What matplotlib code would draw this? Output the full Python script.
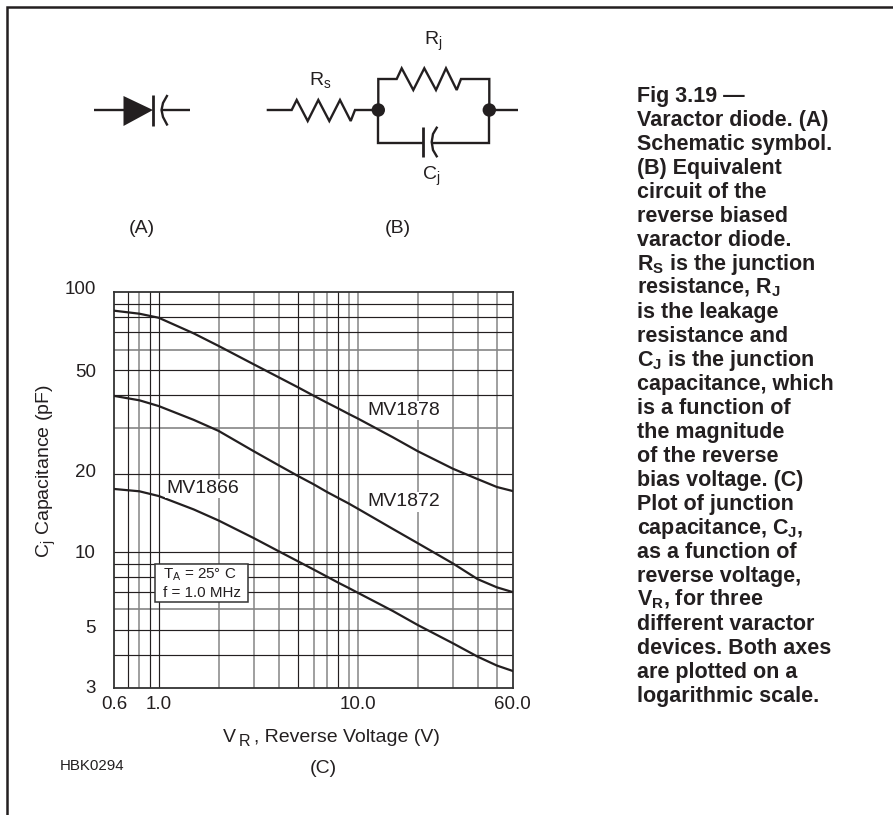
import matplotlib
matplotlib.use("Agg")
import matplotlib.pyplot as plt
from matplotlib.patches import Polygon, Circle, Rectangle
from matplotlib.ticker import NullLocator
from matplotlib.transforms import ScaledTranslation

plt.rcParams['font.family'] = ['Liberation Sans', 'DejaVu Sans']
plt.rcParams['mathtext.fontset'] = 'custom'
plt.rcParams['mathtext.rm'] = 'Liberation Sans'
plt.rcParams['mathtext.bf'] = 'Liberation Sans:bold'
plt.rcParams['mathtext.default'] = 'regular'

# values
voltage = [0.6, 0.8, 1, 1.5, 2, 3, 4, 5, 6, 7, 8, 9, 10, 15, 20, 30, 40, 50, 60]
mv1878 = [84.7, 82.5, 79.6, 69.3, 62.0, 52.7, 47.0, 43.0, 39.9, 37.5, 35.6, 33.95, 32.6, 27.6, 24.4, 20.9, 19.05, 17.76, 17.14]
mv1872 = [39.8, 38.3, 36.4, 32.2, 29.2, 24.4, 21.55, 19.6, 18.2, 17.0, 16.1, 15.35, 14.66, 12.25, 10.8, 9.03, 7.85, 7.3, 7.0]
mv1866 = [17.45, 17.1, 16.4, 14.56, 13.2, 11.3, 10.06, 9.2, 8.55, 8.03, 7.6, 7.26, 6.96, 5.92, 5.23, 4.45, 3.95, 3.65, 3.48]

x_ticks = [0.6, 1, 10, 60]
x_tick_labels = ["0.6", "1.0", "10.0", "60.0"]
y_ticks = [3, 5, 10, 20, 50, 100]
y_tick_labels = ["3", "5", "10", "20", "50", "100"]

# grid lines, dark ones and the ones that came out grey in the scan
x_dark = [0.7, 0.9, 1, 5, 8]
x_grey = [0.8, 2, 3, 4, 6, 7, 9, 10, 20, 30, 40, 50]
y_dark = [4, 5, 7, 8, 9, 10, 20, 40, 50, 70, 80, 90]
y_grey = [6, 30, 60]

caption = [
    r"Fig 3.19 —",
    r"Varactor diode. (A)",
    r"Schematic symbol.",
    r"(B) Equivalent",
    r"circuit of the",
    r"reverse biased",
    r"varactor diode.",
    r"$\mathbf{R_S}$ is the junction",
    r"resistance, $\mathbf{R_J}$",
    r"is the leakage",
    r"resistance and",
    r"$\mathbf{C_J}$ is the junction",
    r"capacitance, which",
    r"is a function of",
    r"the magnitude",
    r"of the reverse",
    r"bias voltage. (C)",
    r"Plot of junction",
    r"capacitance, $\mathbf{C_J}$,",
    r"as a function of",
    r"reverse voltage,",
    r"$\mathbf{V_R}$, for three",
    r"different varactor",
    r"devices. Both axes",
    r"are plotted on a",
    r"logarithmic scale.",
]

W, H = 893, 815
INK = "#231f20"
GREY = "#858585"

fig = plt.figure(figsize=(W / 100, H / 100), dpi=100, facecolor="white")

# the plot (C)
ax = fig.add_axes([114.5 / W, (H - 687.7) / H, 398.2 / W, 395.7 / H])
ax.set_xscale("log")
ax.set_yscale("log")
ax.set_xlim(0.6, 60)
ax.set_ylim(3, 100)

for v in x_grey:
    ax.axvline(v, color=GREY, lw=1.1, zorder=1)
for v in y_grey:
    ax.axhline(v, color=GREY, lw=1.2, zorder=1)
for v in x_dark:
    ax.axvline(v, color=INK, lw=0.85, zorder=1.1)
for v in y_dark:
    ax.axhline(v, color=INK, lw=0.85, zorder=1.1)

for series in (mv1878, mv1872, mv1866):
    ax.plot(voltage, series, color=INK, lw=1.6, zorder=3)

ax.set_xticks(x_ticks)
ax.set_xticklabels(x_tick_labels)
ax.set_yticks(y_ticks)
ax.set_yticklabels(y_tick_labels)
ax.xaxis.set_minor_locator(NullLocator())
ax.yaxis.set_minor_locator(NullLocator())
ax.tick_params(axis="x", length=0, pad=6, labelsize=13.5, labelcolor=INK)
ax.tick_params(axis="y", length=0, pad=13.5, labelsize=13.5, labelcolor=INK)
for s in ax.spines.values():
    s.set_linewidth(1.3)
    s.set_color("#333333")

# some y labels sit a little above their lines in the original
for lab, up in zip(ax.get_yticklabels(), (1, 4, 0, 3, 0, 4)):
    lab.set_transform(lab.get_transform() + ScaledTranslation(0, up / 100, fig.dpi_scale_trans))

# overlay in pixel coordinates for the schematics, frame and text
ov = fig.add_axes([0, 0, 1, 1], facecolor="none")
ov.set_xlim(0, W)
ov.set_ylim(H, 0)
ov.axis("off")


def wire(xs, ys, lw=1.7):
    ov.plot(xs, ys, color=INK, lw=lw, solid_capstyle="butt", solid_joinstyle="miter")


def label(x, y, s, size=13.5, **kw):
    ov.text(x, y, s, fontsize=size, color=INK, **kw)


# page frame
wire([7.3, 7.3, 893], [815, 7, 7], lw=1.8)

# (A) symbol
wire([94, 124], [110, 110])
ov.add_patch(Polygon([(123.5, 96), (123.5, 126), (153, 110)], closed=True, color=INK, lw=0))
wire([153, 153], [95, 126], lw=2)
wire([167.5, 163, 161.5, 163, 167.5], [95, 103, 110, 117, 125.5])
wire([162, 189.5], [110, 110])

# (B) equivalent circuit
wire([266.7, 291.7, 296.7, 307.7, 318.3, 329.3, 340, 350.7, 355, 378.3],
     [110, 110, 100, 121, 100, 121, 100, 121, 110, 110])
wire([378.3, 378.3, 396.7, 401.7, 413.3, 424.3, 436, 446, 456.7, 461, 489.3, 489.3],
     [110, 79, 79, 68.3, 90, 68.3, 90, 68.3, 90, 79, 79, 110])
wire([378.3, 378.3, 423.3], [110, 142.7, 142.7])
wire([423.3, 423.3], [126.7, 156.7], lw=2)
wire([437.3, 433, 431.7, 433, 437.3], [126.7, 134, 142, 150, 157.3])
wire([431.7, 489.3, 489.3], [142.7, 142.7, 110])
wire([489.3, 518.3], [110, 110])
for cx in (378.3, 489.3):
    ov.add_patch(Circle((cx, 110), 6.7, color=INK, lw=0))

label(320, 85, r"R$_s$", size=14, ha="center", va="baseline")
label(433.5, 45, r"R$_j$", size=14, ha="center", va="baseline")
label(431.5, 180, r"C$_j$", size=14, ha="center", va="baseline")
label(142, 233, "(A)", size=14, ha="center", va="baseline")
label(398, 233, "(B)", size=14, ha="center", va="baseline")

# device names sit on a white patch over the grid
pad = dict(facecolor="white", edgecolor="none", pad=1)
label(202.7, 493, "MV1866", size=14, ha="center", va="baseline", bbox=pad)
label(403.7, 415, "MV1878", size=14, ha="center", va="baseline", bbox=pad)
label(403.7, 506.5, "MV1872", size=14, ha="center", va="baseline", bbox=pad)

# conditions box
ov.add_patch(Rectangle((155, 564), 92.7, 37.7, facecolor="white", edgecolor="#333333", lw=1.1, zorder=4))
label(163, 579, r"T$_A$ = 25° C", size=10.9, va="baseline", zorder=5)
label(163, 597, "f = 1.0 MHz", size=10.9, va="baseline", zorder=5)

# axis titles
label(46, 471, r"C$_j$ Capacitance (pF)", size=14, rotation=90, ha="center", va="center")
label(222.7, 741.7, "V", size=14, va="baseline")
label(239, 746.5, "R", size=11.5, va="baseline")
label(254, 741.7, ", Reverse Voltage (V)", size=14, va="baseline")
label(323, 773, "(C)", size=14, ha="center", va="baseline")
label(60, 770, "HBK0294", size=10.8, va="baseline")

# caption
for i, line in enumerate(caption):
    label(636.7, 101.7 + i * 24, line, size=15.5, fontweight="bold", va="baseline")

fig.savefig("out.png", dpi=100)
